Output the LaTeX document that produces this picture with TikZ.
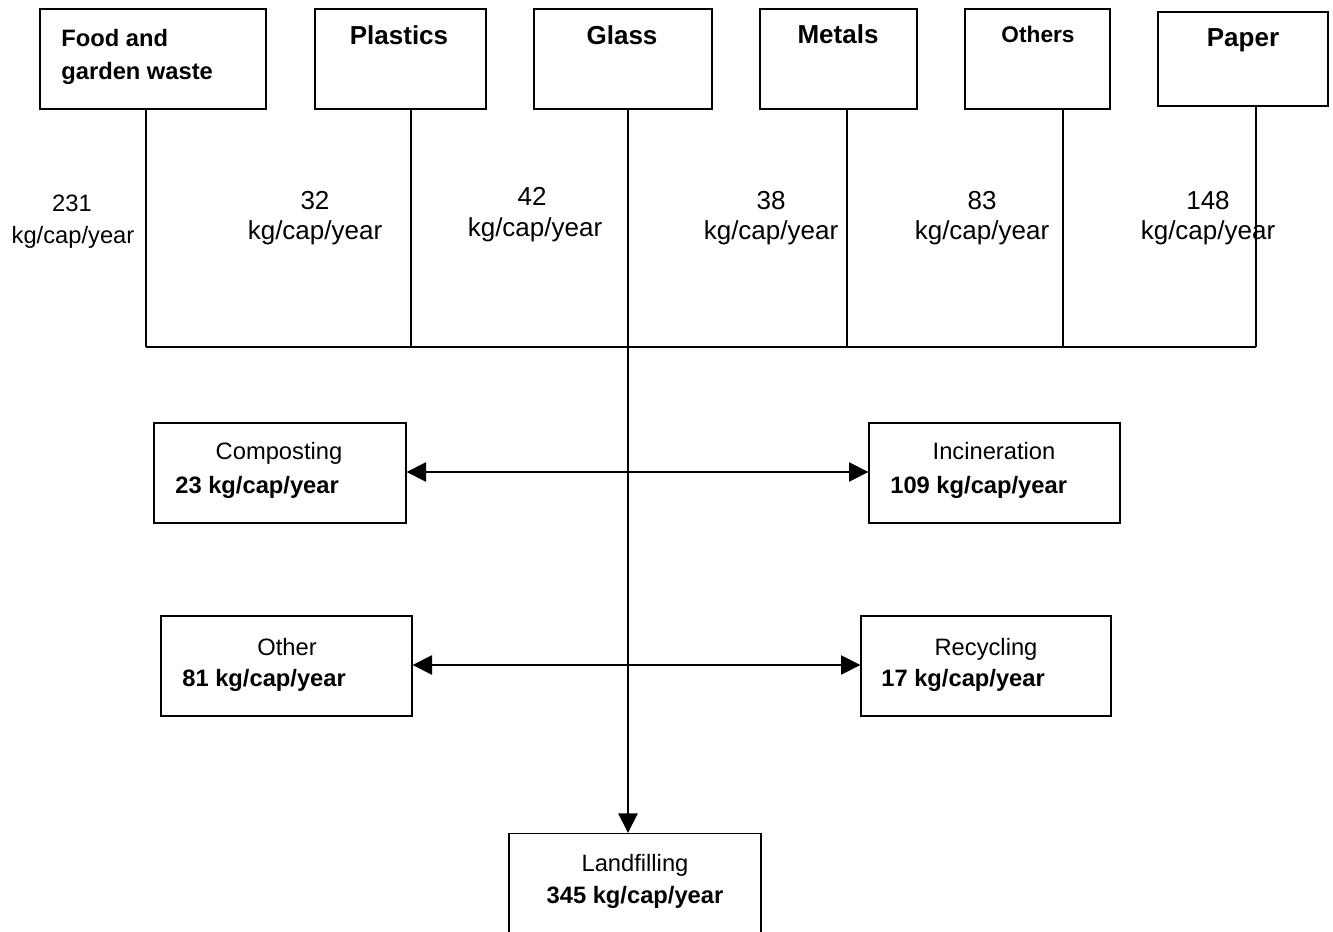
\documentclass[tikz,border=0pt]{standalone}
\usepackage{fontspec}
\setmainfont{Liberation Sans}
\usetikzlibrary{arrows.meta}
\begin{document}
\begin{tikzpicture}[x=0.02cm,y=-0.02cm,
  box/.style={draw,line width=0.8pt,inner sep=0pt,minimum height=2cm},
  txt/.style={inner sep=0pt,anchor=base},
  txtl/.style={inner sep=0pt,anchor=base west},
  big/.style={font=\fontsize{14.8}{17}\selectfont},
  mid/.style={font=\fontsize{13.5}{16}\selectfont},
  sml/.style={font=\fontsize{12.9}{15}\selectfont},
  link/.style={line width=0.8pt},
  tip/.style={line width=0.8pt,-{Triangle[length=11pt,width=11pt]}},
  both/.style={line width=0.8pt,{Triangle[length=11pt,width=11pt]}-{Triangle[length=11pt,width=11pt]}}]
\useasboundingbox (0,0) rectangle (1333,932);

% waste fractions
\node[box,minimum width=4.52cm] (food) at (153,59) {};
\node[box,minimum width=3.42cm] (plast) at (400.5,59) {};
\node[box,minimum width=3.56cm] (glass) at (623,59) {};
\node[box,minimum width=3.14cm] (metal) at (838.5,59) {};
\node[box,minimum width=2.9cm] (other) at (1037.5,59) {};
\node[box,minimum width=3.4cm,minimum height=1.88cm] (paper) at (1243,59) {};

\node[txtl,mid] (foodA) at (61,47) {\bfseries Food and};
\node[txtl,mid] (foodB) at (61,80) {\bfseries garden waste};
\node[txt,big] (plastT) at (399,45) {\bfseries Plastics};
\node[txt,big] (glassT) at (622,45) {\bfseries Glass};
\node[txt,big] (metalT) at (838,44) {\bfseries Metals};
\node[txt,sml] (otherT) at (1038,43) {\bfseries Others};
\node[txt,big] (paperT) at (1243,46.5) {\bfseries Paper};

% quantities per fraction
\node[txt,mid] (q1a) at (72,212) {231};
\node[txt,mid] (q1b) at (73,244) {kg/cap/year};
\node[txt,big] (q2a) at (315,210) {32};
\node[txt,big] (q2b) at (315,240) {kg/cap/year};
\node[txt,big] (q3a) at (532,206) {42};
\node[txt,big] (q3b) at (535,237) {kg/cap/year};
\node[txt,big] (q4a) at (771,210) {38};
\node[txt,big] (q4b) at (771,240) {kg/cap/year};
\node[txt,big] (q5a) at (982,210) {83};
\node[txt,big] (q5b) at (982,240) {kg/cap/year};
\node[txt,big] (q6a) at (1208,210) {148};
\node[txt,big] (q6b) at (1208,240) {kg/cap/year};

% collecting bus
\coordinate (j1) at (146,347);
\coordinate (j2) at (411,347);
\coordinate (j3) at (628,347);
\coordinate (j4) at (847,347);
\coordinate (j5) at (1063,347);
\coordinate (j6) at (1256,347);
\draw[link] (food.south -| j1) -- (j1);
\draw[link] (plast.south -| j2) -- (j2);
\draw[link] (glass.south -| j3) -- (j3);
\draw[link] (metal.south -| j4) -- (j4);
\draw[link] (other.south -| j5) -- (j5);
\draw[link] (paper.south -| j6) -- (j6);
\draw[link] (j1) -- (j6);

% treatment routes
\node[box,minimum width=5.04cm] (comp) at (280,473) {};
\node[box,minimum width=5.02cm] (oth) at (286.5,666) {};
\node[box,minimum width=5.02cm] (inc) at (994.5,473) {};
\node[box,minimum width=5.0cm] (rec) at (986,666) {};
\node[box,minimum width=5.04cm,minimum height=2.1cm] (land) at (635,886) {};

\node[txt,mid] (compT) at (279,460) {Composting};
\node[txtl,mid] (compV) at (175,494) {\bfseries 23 kg/cap/year};
\node[txt,mid] (othT) at (287,655) {Other};
\node[txtl,mid] (othV) at (182,686) {\bfseries 81 kg/cap/year};
\node[txt,mid] (incT) at (994,460) {Incineration};
\node[txtl,mid] (incV) at (890,494) {\bfseries 109 kg/cap/year};
\node[txt,mid] (recT) at (986,655) {Recycling};
\node[txtl,mid] (recV) at (881,686) {\bfseries 17 kg/cap/year};
\node[txt,mid] (landT) at (635,871) {Landfilling};
\node[txt,mid] (landV) at (635,903) {\bfseries 345 kg/cap/year};

\draw[tip] (j3) -- (land.north -| j3);
\draw[both] (comp.east |- 0,472) -- (inc.west |- 0,472);
\draw[both] (oth.east |- 0,665) -- (rec.west |- 0,665);
\end{tikzpicture}
\end{document}
